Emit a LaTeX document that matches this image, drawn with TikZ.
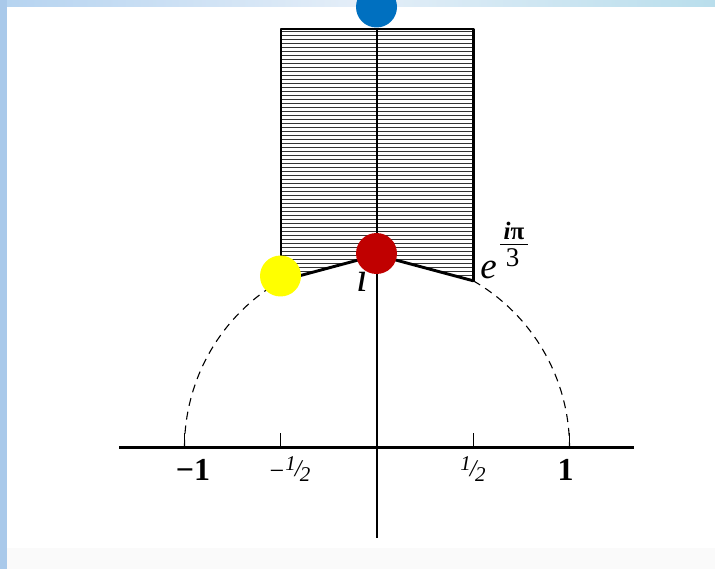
\documentclass[tikz,border=0pt]{standalone}
\usepackage{fontspec}
\setmainfont{Liberation Serif}
\definecolor{stripL}{HTML}{A9C9EA}
\definecolor{topL}{HTML}{B5D3F0}
\definecolor{topM}{HTML}{E4EEF8}
\definecolor{topR}{HTML}{B9DEEC}
\definecolor{dotblue}{HTML}{0070C0}
\definecolor{dotred}{HTML}{C00000}
\definecolor{dotyellow}{HTML}{FFFF00}
\tikzset{
  boxline/.style={line width=2.5pt, line cap=round, line join=round},
  axisline/.style={line width=2.2pt},
  hatchline/.style={line width=0.95pt, black!80},
  tickline/.style={line width=1pt},
  arcdash/.style={line width=1.1pt, dash pattern=on 8pt off 6pt},
  dot/.style={circle, inner sep=0pt, minimum size=41pt},
  axlab/.style={font=\fontsize{32}{32}\selectfont\bfseries, inner sep=0pt, anchor=base},
  fraclab/.style={font=\fontsize{26}{26}\selectfont, inner sep=0pt, anchor=base},
}
\newcommand{\halfsym}{{\fontsize{21}{21}\selectfont\itshape\raisebox{8.5pt}{1}\kern-1pt\raisebox{3pt}{\fontsize{24}{24}\selectfont /}\kern-1.5pt\raisebox{-2.7pt}{2}}}
\begin{document}
\begin{tikzpicture}[x=1pt,y=-1pt]
\useasboundingbox (0,0) rectangle (715,569);
% background
\fill[white] (0,0) rectangle (715,569);
\fill[black!2] (7,548) rectangle (715,569);
\shade[left color=topL, right color=topR, middle color=topM] (0,0) rectangle (715,7);
\fill[stripL] (0,0) rectangle (7,569);
% key points
\coordinate (O) at (377,447.5);
\coordinate (TL) at (280.75,29);
\coordinate (TR) at (473.25,29);
\coordinate (BL) at (280.75,280.8);
\coordinate (BR) at (473.25,280.8);
\coordinate (I) at (377,255);
\coordinate (Vtop) at (377,29);
\coordinate (Vbot) at (377,538);
\coordinate (Hl) at (119,447.5);
\coordinate (Hr) at (634,447.5);
% hatching
\begin{scope}
\clip (TL) -- (TR) -- (BR) -- (I) -- (BL) -- cycle;
\foreach \yy in {31,35,...,287} \draw[hatchline] (278,\yy) -- (476,\yy);
\end{scope}
% box outline
\draw[boxline] (BL) -- (TL) -- (TR) -- (BR);
\draw[boxline, line width=2.9pt] (BL) -- (I) -- (BR);
% axes
\draw[axisline] (Vtop) -- (Vbot);
\draw[axisline] (Hl) -- (Hr);
% ticks
\foreach \xx/\nm in {184.5/m1,280.75/mh,473.25/ph,569.5/p1} {
  \coordinate (t\nm) at (\xx,447.5);
  \draw[tickline] (t\nm) -- ++(0,-15);
}
% dashed unit circle parts
\draw[arcdash] (BR) arc[start angle=-60, end angle=0, radius=192.5];
\draw[arcdash] (tm1) arc[start angle=180, end angle=240, radius=192.5];
% labels
\node[axlab] (lm1) at (193,480) {\textminus 1};
\node[fraclab] (lmh) at (290,479) {\textminus\kern1pt\halfsym};
\node[fraclab] (lph) at (473,479) {\halfsym};
\node[axlab] (lp1) at (565.5,480) {1};
\node[font=\fontsize{42}{42}\selectfont\itshape, inner sep=0pt, anchor=base] (ilab) at (362,291.5) {i};
\node[font=\fontsize{37}{37}\selectfont\itshape, inner sep=0pt, anchor=base] (elab) at (488.5,278.3) {e};
\node[font=\fontsize{25}{25}\selectfont\bfseries, inner sep=0pt, anchor=base] (num) at (514,240) {\textit{i}π};
\node[font=\fontsize{27}{27}\selectfont, inner sep=0pt, anchor=base] (den) at (512.5,266.7) {3};
\draw[line width=1.3pt] (500,244.5) -- (528,244.5);
% dots
\node[dot, fill=dotblue] (bdot) at (376.5,7) {};
\node[dot, fill=dotred] (rdot) at (376.5,253.5) {};
\node[dot, fill=dotyellow] (ydot) at (280.5,276) {};
\end{tikzpicture}
\end{document}
